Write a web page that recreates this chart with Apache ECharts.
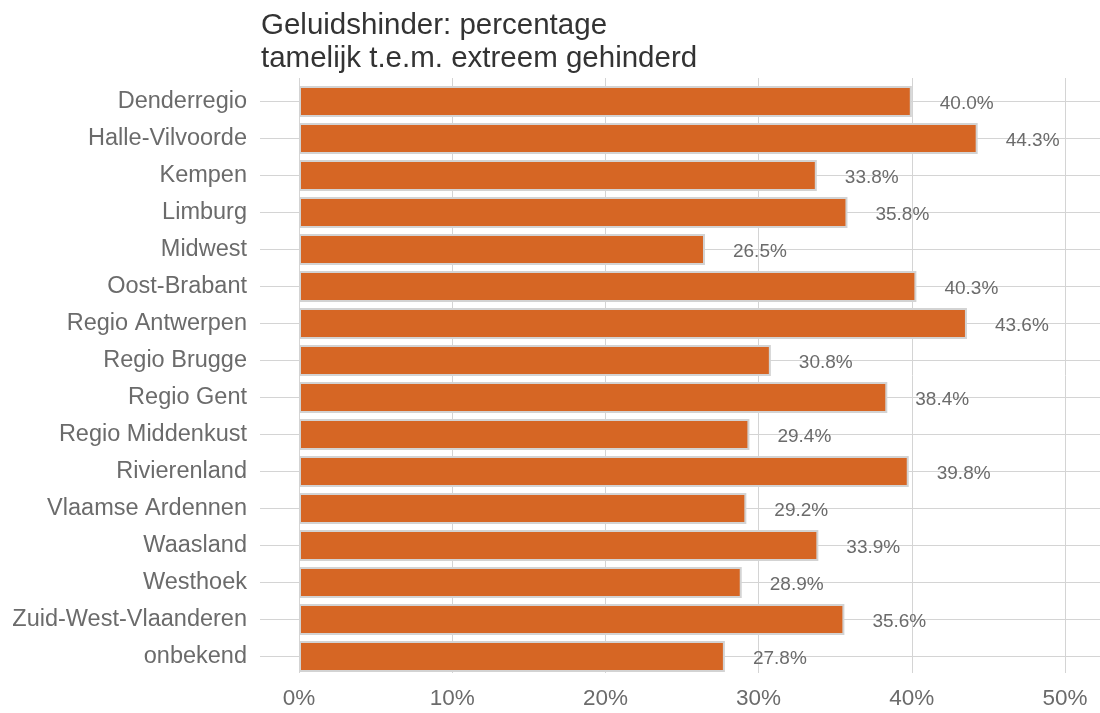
<!DOCTYPE html>
<html>
<head>
<meta charset="utf-8">
<script src="https://cdn.jsdelivr.net/npm/echarts@6/dist/echarts.min.js"></script>
<style>
  html, body { margin: 0; padding: 0; background: #fff; }
  #chart { width: 1100px; height: 713px; }
</style>
</head>
<body>
<div id="chart"></div>
<script>
// regio's (van boven naar onder)
const regions = [
  'Denderregio', 'Halle-Vilvoorde', 'Kempen', 'Limburg', 'Midwest',
  'Oost-Brabant', 'Regio Antwerpen', 'Regio Brugge', 'Regio Gent',
  'Regio Middenkust', 'Rivierenland', 'Vlaamse Ardennen', 'Waasland',
  'Westhoek', 'Zuid-West-Vlaanderen', 'onbekend'
]
// percentage tamelijk t.e.m. extreem gehinderd
const values = [
  40.0, 44.3, 33.8, 35.8, 26.5, 40.3, 43.6, 30.8,
  38.4, 29.4, 39.8, 29.2, 33.9, 28.9, 35.6, 27.8
]
const xTicks = [0, 10, 20, 30, 40, 50]

const font = '"Liberation Sans", Arial, sans-serif'
const gridColor = '#d4d4d4'
const textGrey = '#6b6b6b'

const chart = echarts.init(document.getElementById('chart'))

const option = {
  animation: false,
  textStyle: { fontFamily: font },
  title: {
    text: 'Geluidshinder: percentage\ntamelijk t.e.m. extreem gehinderd',
    left: 256,
    top: 4,
    textStyle: {
      fontFamily: font,
      fontSize: 29.5,
      lineHeight: 33,
      fontWeight: 'normal',
      color: '#333333'
    }
  },
  grid: [
    // panel met de staven
    { left: 299, right: 35, top: 83, height: 592 },
    // horizontale rasterlijnen, iets breder dan het panel
    { left: 260, right: 0, top: 101, height: 555 },
    // verticale rasterlijnen + x-as labels
    { left: 299, right: 35, top: 78, height: 595 }
  ],
  xAxis: [
    {
      type: 'value',
      gridIndex: 0,
      min: xTicks[0],
      max: xTicks[xTicks.length - 1],
      show: false
    },
    {
      type: 'value',
      gridIndex: 1,
      min: 0,
      max: 1,
      show: false
    },
    {
      type: 'value',
      gridIndex: 2,
      min: xTicks[0],
      max: xTicks[xTicks.length - 1],
      interval: 10,
      axisLine: { show: false },
      axisTick: { show: false },
      splitLine: { lineStyle: { color: gridColor, width: 1 } },
      axisLabel: {
        color: textGrey,
        fontSize: 22.5,
        margin: 14,
        formatter: v => v + '%'
      }
    }
  ],
  yAxis: [
    {
      type: 'category',
      gridIndex: 0,
      data: regions,
      inverse: true,
      axisLine: { show: false },
      axisTick: { show: false },
      splitLine: { show: false },
      axisLabel: {
        color: textGrey,
        fontSize: 23.5,
        margin: 52
      }
    },
    {
      type: 'value',
      gridIndex: 1,
      min: 0,
      max: regions.length - 1,
      interval: 1,
      inverse: true,
      axisLine: { show: false },
      axisTick: { show: false },
      axisLabel: { show: false },
      splitLine: { lineStyle: { color: gridColor, width: 1 } }
    },
    {
      type: 'value',
      gridIndex: 2,
      min: 0,
      max: 1,
      show: false
    }
  ],
  series: [
    {
      type: 'bar',
      xAxisIndex: 0,
      yAxisIndex: 0,
      data: values,
      barWidth: 31,
      z: 3,
      itemStyle: {
        color: '#d66624',
        borderColor: '#d3d3d3',
        borderWidth: 2
      },
      label: {
        show: true,
        position: 'right',
        distance: 28,
        offset: [0, 2],
        color: textGrey,
        fontSize: 19,
        fontFamily: font,
        formatter: p => p.value.toFixed(1) + '%'
      }
    }
  ]
}

chart.setOption(option)
</script>
</body>
</html>
